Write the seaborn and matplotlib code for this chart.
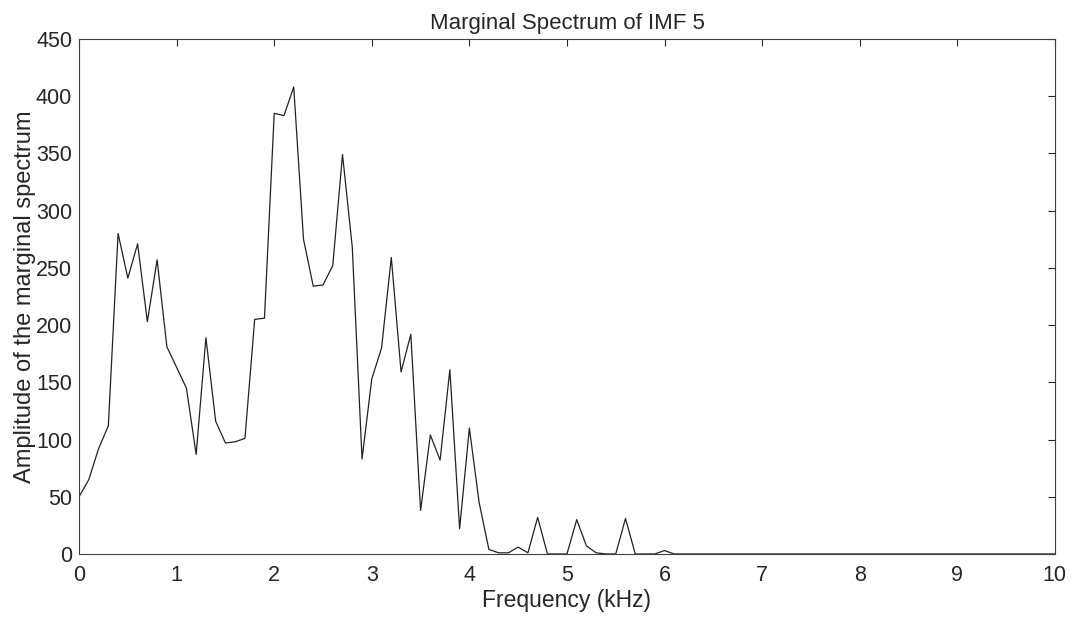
import numpy as np
import pandas as pd
import seaborn as sns
import matplotlib.pyplot as plt

# frequency grid (kHz), 0.1 kHz step
freq = np.round(np.arange(0, 10.01, 0.1), 1)

amp_low = [50, 65, 92, 112, 280, 241, 271, 203, 257, 181,
           163, 145, 87, 189, 116, 97, 98, 101, 205, 206,
           385, 383, 408, 275, 234, 235, 252, 349, 268, 83,
           153, 180, 259, 159, 192, 38, 104, 82, 161, 22,
           110, 45, 4, 1, 1, 6, 1, 32, 0, 0,
           0, 30, 7, 1, 0, 0, 31, 0, 0, 0,
           3]
amplitude = amp_low + [0] * (len(freq) - len(amp_low))

df = pd.DataFrame({'freq': freq, 'amp': amplitude})

sns.set_theme(style='white')
plt.rcParams['font.family'] = ['Liberation Sans', 'DejaVu Sans']

fig = plt.figure(figsize=(10.83, 6.18), dpi=100)
ax = fig.add_axes([0.073, 0.1036, 0.901, 0.8334])

sns.lineplot(data=df, x='freq', y='amp', color='#222222', linewidth=0.9, ax=ax)

ax.set_xlim(0, 10)
ax.set_ylim(0, 450)
ax.set_xticks(np.arange(0, 11, 1))
ax.set_yticks(np.arange(0, 451, 50))
ax.tick_params(direction='in', length=5, width=0.8, top=True, right=True,
               labelsize=15.5, colors='#262626')
ax.tick_params(axis='x', pad=8)
ax.tick_params(axis='y', pad=5)
for s in ax.spines.values():
    s.set_color('#404040')
    s.set_linewidth(0.8)

ax.set_xlabel('Frequency (kHz)', fontsize=16.5, color='#262626', labelpad=2)
ax.set_ylabel('Amplitude of the marginal spectrum', fontsize=17, color='#262626', labelpad=0)
ax.set_title('Marginal Spectrum of IMF 5', fontsize=16, color='#262626', pad=7)

fig.savefig('out.png', dpi=100)
